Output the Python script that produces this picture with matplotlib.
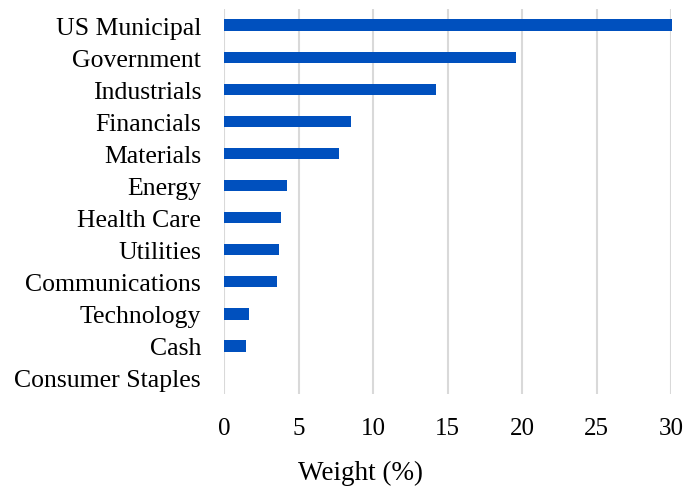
import matplotlib
matplotlib.use("Agg")
import matplotlib.pyplot as plt

categories = ["US Municipal", "Government", "Industrials", "Financials", "Materials",
              "Energy", "Health Care", "Utilities", "Communications", "Technology",
              "Cash", "Consumer Staples"]
weights = [30.1, 19.6, 14.2, 8.5, 7.7, 4.23, 3.85, 3.71, 3.58, 1.70, 1.50, 0.0]
xticks = [0, 5, 10, 15, 20, 25, 30]

plt.rcParams['font.family'] = ['Liberation Serif', 'DejaVu Serif']

top_px, bot_px = 10.2, 394.9
fig = plt.figure(figsize=(6.83, 4.89), dpi=100)
ax = fig.add_axes([224/683, 1-bot_px/489, (671-224)/683, (bot_px-top_px)/489])

y = list(range(len(categories)))
bars = ax.barh(y, weights, height=0.36, color="#0050BE", zorder=3)
for b in bars:
    b.set_clip_on(False)
ax.set_yticks(y)
ax.set_yticklabels(categories, fontsize=18.5)
ax.set_ylim(len(categories)-0.5, -0.5)
ax.set_xlim(0, 30)
ax.set_xticks(xticks)
ax.set_xticklabels([str(t) for t in xticks], fontsize=18)
ax.xaxis.grid(True, color="#d9d9d9", linewidth=1.5, zorder=0)
ax.tick_params(axis='both', length=0)
ax.tick_params(axis='x', pad=16.5)
ax.tick_params(axis='y', pad=16.5)
for s in ax.spines.values():
    s.set_visible(False)
ax.set_xlabel("Weight (%)", fontsize=19.5)
ax.xaxis.set_label_coords((361-224)/447, -(473-bot_px)/(bot_px-top_px), transform=ax.transAxes)
ax.xaxis.label.set_va('center')

fig.savefig("out.png", dpi=100)
